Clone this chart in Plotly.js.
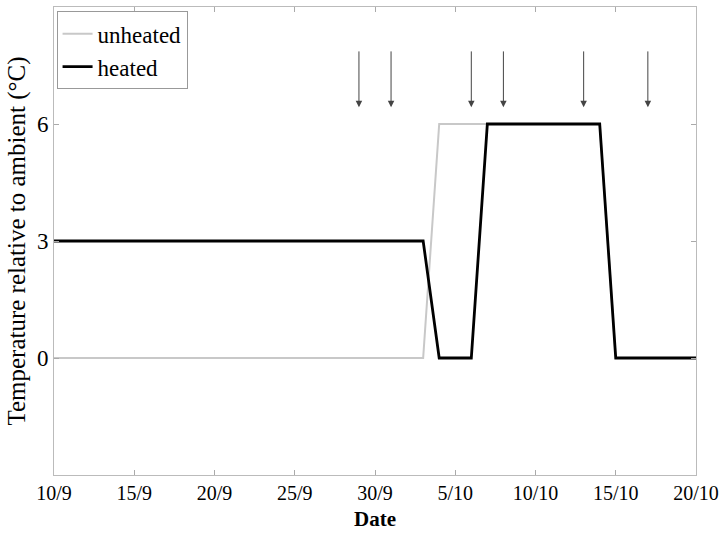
<!DOCTYPE html>
<html>
<head>
<meta charset="utf-8">
<script src="https://cdn.plot.ly/plotly-3.0.1.min.js"></script>
<style>html,body{margin:0;padding:0;background:#fff;}#chart{width:725px;height:533px;}</style>
</head>
<body>
<div id="chart"></div>
<script>
const unheatedDates = ['2015-09-10','2015-10-03','2015-10-04','2015-10-14','2015-10-15','2015-10-20'];
const unheatedValues = [0, 0, 6, 6, 0, 0];
const heatedDates = ['2015-09-10','2015-10-03','2015-10-04','2015-10-06','2015-10-07','2015-10-14','2015-10-15','2015-10-20'];
const heatedValues = [3, 3, 0, 0, 6, 6, 0, 0];
const arrowDates = ['2015-09-29','2015-10-01','2015-10-06','2015-10-08','2015-10-13','2015-10-17'];
const arrowTop = 7.9;
const arrowTip = 6.43;
const tickDates = ['2015-09-10','2015-09-15','2015-09-20','2015-09-25','2015-09-30','2015-10-05','2015-10-10','2015-10-15','2015-10-20'];
const tickLabels = ['10/9','15/9','20/9','25/9','30/9','5/10','10/10','15/10','20/10'];
const yTicks = [0, 3, 6];

const traces = [
  {x: unheatedDates, y: unheatedValues, name: 'unheated', mode: 'lines',
   line: {color: '#c8c8c8', width: 2}},
  {x: heatedDates, y: heatedValues, name: 'heated', mode: 'lines',
   line: {color: '#000000', width: 2.8}}
];

const annotations = arrowDates.map(d => ({
  x: d, y: arrowTip, ax: d, ay: arrowTop, xref: 'x', yref: 'y', axref: 'x', ayref: 'y',
  text: '', showarrow: true, arrowhead: 2, arrowsize: 1.3, arrowwidth: 1, arrowcolor: '#444'
}));

const font = 'Liberation Serif, Times New Roman, serif';
annotations.push({text: '<b>Date</b>', xref: 'paper', yref: 'paper', x: 0.5, y: 0,
  xanchor: 'center', yanchor: 'bottom', yshift: -57, showarrow: false, borderpad: 0,
  font: {family: font, size: 21, color: '#000'}});

const layout = {
  width: 725, height: 533,
  margin: {l: 54, r: 29, t: 7, b: 58},
  paper_bgcolor: '#fff', plot_bgcolor: '#fff',
  font: {family: font, size: 21, color: '#000'},
  showlegend: true,
  legend: {x: 0.004, y: 0.991, xanchor: 'left', yanchor: 'top', bgcolor: '#fff',
           bordercolor: '#999', borderwidth: 1, font: {family: font, size: 23},
           tracegroupgap: 0, itemwidth: 30},
  xaxis: {type: 'date', range: ['2015-09-10','2015-10-20'],
          tickvals: tickDates, ticktext: tickLabels, ticks: 'inside', ticklen: 5,
          tickcolor: '#aaa', showgrid: false, zeroline: false, showline: true,
          linecolor: '#bbb', linewidth: 1, mirror: 'ticks',
          tickfont: {family: font, size: 20}},
  yaxis: {range: [-3, 9], tickvals: yTicks, ticktext: yTicks.map(String),
          ticks: 'inside', ticklen: 5, tickcolor: '#aaa', showgrid: false, zeroline: false,
          showline: true, linecolor: '#bbb', linewidth: 1, mirror: 'ticks',
          tickfont: {family: font, size: 23},
          title: {text: 'Temperature relative to ambient (°C)', font: {family: font, size: 25}, standoff: 4}},
  annotations: annotations
};

Plotly.newPlot('chart', traces, layout, {displayModeBar: false, staticPlot: true});
</script>
</body>
</html>
